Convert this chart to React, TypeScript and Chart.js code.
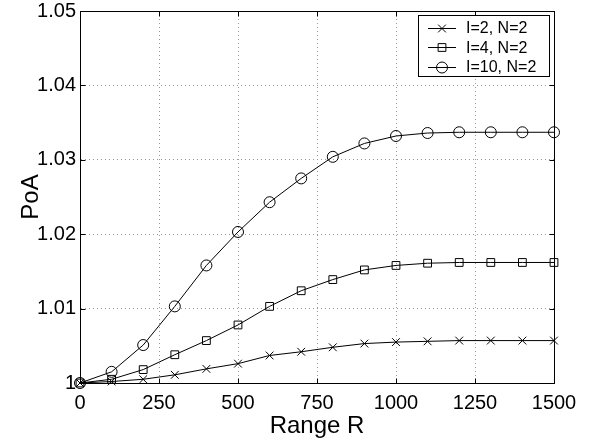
import React, { useEffect, useRef } from "react";
import { Chart, registerables } from "chart.js";

Chart.register(...registerables);

const rangeR = [0, 100, 200, 300, 400, 500, 600, 700, 800, 900, 1000, 1100, 1200, 1300, 1400, 1500];
const poaI2 = [1.0, 1.0002, 1.0005, 1.0011, 1.0019, 1.0026, 1.0037, 1.0042, 1.0048, 1.0053, 1.0055, 1.0056, 1.0057, 1.0057, 1.0057, 1.0057];
const poaI4 = [1.0, 1.0005, 1.0018, 1.0038, 1.0057, 1.0078, 1.0103, 1.0124, 1.0139, 1.0152, 1.0158, 1.0161, 1.0162, 1.0162, 1.0162, 1.0162];
const poaI10 = [1.0, 1.0015, 1.0051, 1.0103, 1.0158, 1.0203, 1.0243, 1.0275, 1.0304, 1.0322, 1.0332, 1.0336, 1.0337, 1.0337, 1.0337, 1.0337];
const seriesLabels = ["I=2, N=2", "I=4, N=2", "I=10, N=2"];
const seriesMarkers = ["crossRot", "rect", "circle"];
const xTitle = "Range R";
const yTitle = "PoA";

const FONT = "'Liberation Sans', Arial, Helvetica, sans-serif";

function drawMarker(ctx: CanvasRenderingContext2D, style: string, x: number, y: number, r: number) {
  ctx.beginPath();
  if (style === "circle") {
    ctx.arc(x, y, r, 0, Math.PI * 2);
  } else if (style === "rect") {
    const s = r * Math.SQRT1_2;
    ctx.rect(x - s, y - s, 2 * s, 2 * s);
  } else {
    const s = r * Math.SQRT1_2;
    ctx.moveTo(x - s, y - s);
    ctx.lineTo(x + s, y + s);
    ctx.moveTo(x - s, y + s);
    ctx.lineTo(x + s, y - s);
  }
  ctx.stroke();
}

const boxAndLegend = {
  id: "boxAndLegend",
  afterDraw(chart: any) {
    const { ctx, chartArea, scales } = chart;
    const { left, top, right, bottom } = chartArea;
    ctx.save();
    ctx.strokeStyle = "#000";
    ctx.lineWidth = 1;
    const L = Math.round(left) + 0.5, T = Math.round(top) + 0.5;
    const R = L + Math.round(right - left), B = T + Math.round(bottom - top);
    ctx.strokeRect(L, T, R - L, B - T);
    const tl = 5;
    ctx.beginPath();
    scales.x.ticks.forEach((t: any) => {
      const x = Math.round(scales.x.getPixelForValue(t.value)) + 0.5;
      ctx.moveTo(x, B); ctx.lineTo(x, B - tl);
      ctx.moveTo(x, T); ctx.lineTo(x, T + tl);
    });
    scales.y.ticks.forEach((t: any) => {
      const y = Math.round(scales.y.getPixelForValue(t.value)) + 0.5;
      ctx.moveTo(L, y); ctx.lineTo(L + tl, y);
      ctx.moveTo(R, y); ctx.lineTo(R - tl, y);
    });
    ctx.stroke();
    const bx = 418.5, by = 15.5, bw = 131, bh = 61;
    ctx.fillStyle = "#fff";
    ctx.fillRect(bx, by, bw, bh);
    ctx.strokeRect(bx, by, bw, bh);
    ctx.font = "16px " + FONT;
    ctx.textBaseline = "middle";
    ctx.textAlign = "left";
    const rows = [27.7, 47.3, 66.7];
    chart.data.datasets.forEach((ds: any, i: number) => {
      const y = Math.round(rows[i]) + 0.5;
      ctx.strokeStyle = "#000";
      ctx.lineWidth = 1;
      ctx.beginPath();
      ctx.moveTo(428, y);
      ctx.lineTo(456, y);
      ctx.stroke();
      drawMarker(ctx, seriesMarkers[i], 442, y, 5.5);
      ctx.fillStyle = "#000";
      ctx.fillText(ds.label, 466, rows[i] + 1);
    });
    ctx.restore();
  },
};

export default function App() {
  const ref = useRef<HTMLCanvasElement | null>(null);
  useEffect(() => {
    document.body.style.margin = "0";
    const mk = (label: string, data: number[], marker: string) => ({
      label,
      data: rangeR.map((x, i) => ({ x, y: data[i] })),
      borderColor: "#000",
      backgroundColor: "rgba(0,0,0,0)",
      borderWidth: 1,
      pointStyle: marker,
      pointRadius: 5.5,
      pointBorderColor: "#000",
      pointBackgroundColor: "rgba(0,0,0,0)",
      pointBorderWidth: 1,
      tension: 0,
      clip: false,
    });
    const chart = new Chart(ref.current!, {
      type: "line",
      data: {
        datasets: [
          mk(seriesLabels[0], poaI2, seriesMarkers[0]),
          mk(seriesLabels[1], poaI4, seriesMarkers[1]),
          mk(seriesLabels[2], poaI10, seriesMarkers[2]),
        ],
      },
      options: {
        animation: false,
        responsive: false,
        devicePixelRatio: 1,
        layout: { padding: { left: 0, top: 11, right: 36, bottom: 0 } },
        plugins: { legend: { display: false }, tooltip: { enabled: false } },
        scales: {
          x: {
            type: "linear",
            min: 0,
            max: 1500,
            ticks: {
              stepSize: 250,
              color: "#000",
              font: { family: FONT, size: 20 },
              padding: 8,
              maxRotation: 0,
              callback: (v: any) => String(Math.round(Number(v))),
            },
            grid: { color: "#999", drawTicks: false, lineWidth: 1 },
            border: { display: true, color: "#000", dash: [1, 3] },
            title: { display: true, text: xTitle, color: "#000", font: { family: FONT, size: 24, lineHeight: 1 }, padding: { top: 0, bottom: 0 } },
            afterFit(scale: any) { scale.height = 55; scale.paddingLeft = 0; scale.paddingRight = 0; },
          } as any,
          y: {
            type: "linear",
            min: 1,
            max: 1.05,
            ticks: {
              stepSize: 0.01,
              color: "#000",
              font: { family: FONT, size: 20, lineHeight: 1 },
              padding: 4,
              callback: (v: any) => (Math.abs(v - 1) < 1e-9 ? "1" : Number(v).toFixed(2)),
            },
            grid: { color: "#999", drawTicks: false, lineWidth: 1 },
            border: { display: true, color: "#000", dash: [1, 3] },
            title: { display: true, text: yTitle, color: "#000", font: { family: FONT, size: 24, lineHeight: 1 }, padding: { top: 19, bottom: 0 } },
            afterFit(scale: any) { scale.width = 80; scale.paddingTop = 0; scale.paddingBottom = 0; },
          } as any,
        },
      },
      plugins: [boxAndLegend],
    } as any);
    return () => chart.destroy();
  }, []);
  return (
    <div style={{ position: "absolute", left: 0, top: 0, width: 590, height: 438, background: "#fff" }}>
      <canvas ref={ref} width={590} height={438} style={{ width: 590, height: 438 }} />
    </div>
  );
}
